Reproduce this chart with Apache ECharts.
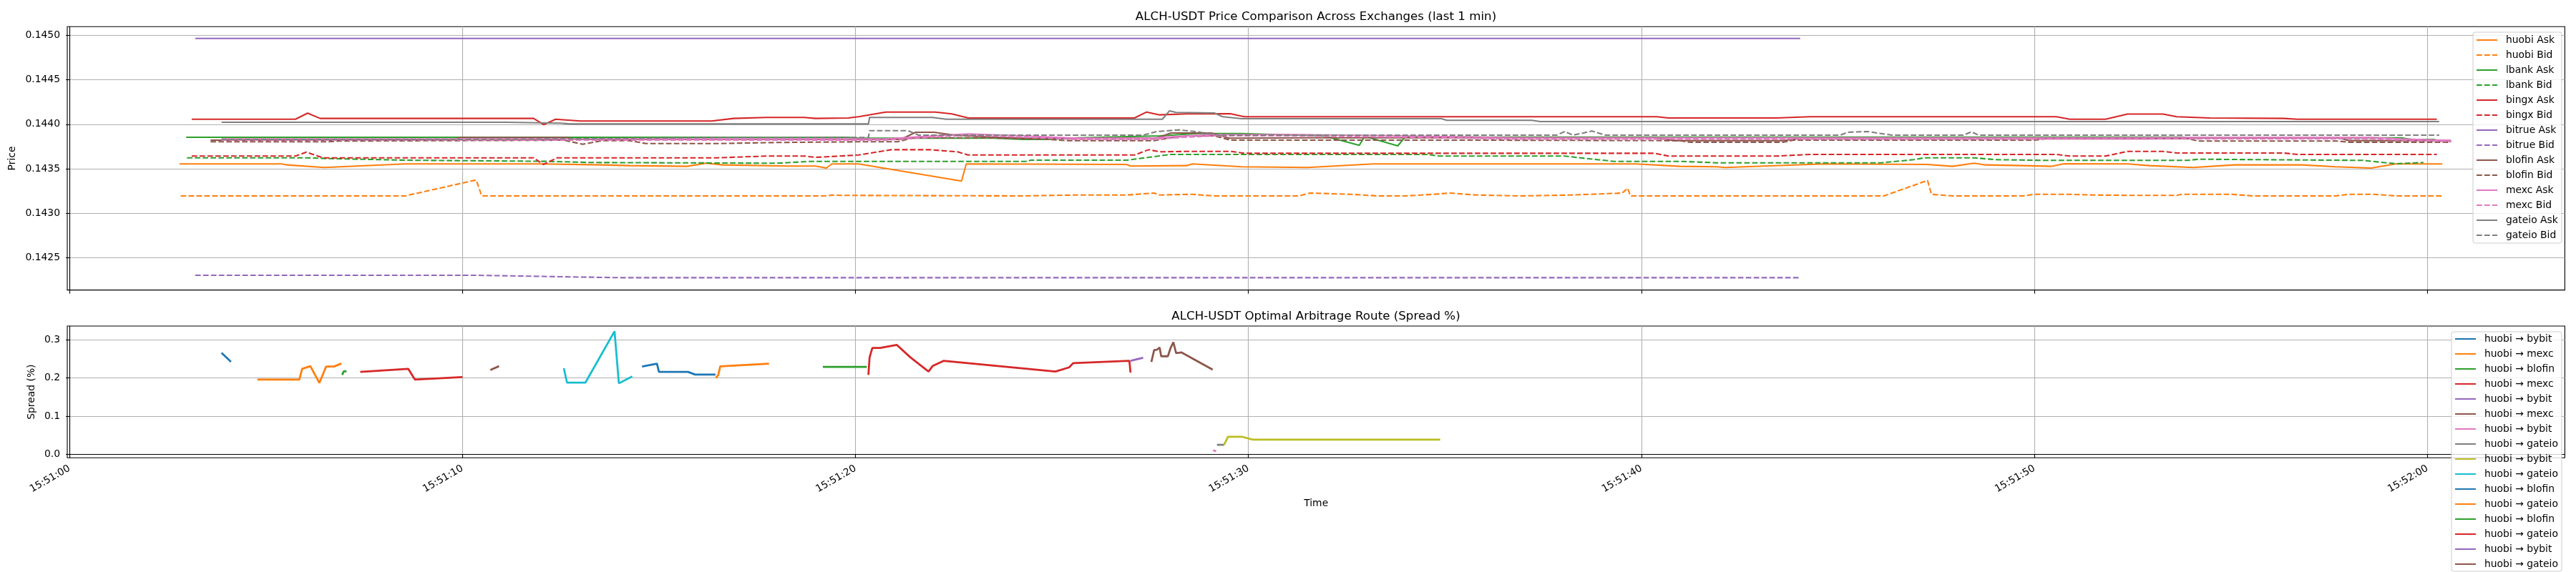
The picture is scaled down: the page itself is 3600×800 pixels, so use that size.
<!DOCTYPE html>
<html><head><meta charset="utf-8">
<script src="https://cdn.jsdelivr.net/npm/echarts@6/dist/echarts.min.js"></script>
<style>html,body{margin:0;padding:0;background:#fff}#c{width:3600px;height:800px}</style>
</head><body><div id="c"></div>
<script>
// ---------- text ----------
const priceTitle = 'ALCH-USDT Price Comparison Across Exchanges (last 1 min)';
const spreadTitle = 'ALCH-USDT Optimal Arbitrage Route (Spread %)';
// x values: seconds after 15:51:00
const xTickValues = [0, 10, 20, 30, 40, 50, 60];
const priceTickValues = [0.1425, 0.1430, 0.1435, 0.1440, 0.1445, 0.1450];
const spreadTickValues = [0.0, 0.1, 0.2, 0.3];

// ---------- price data ----------
const huobiAsk = [[2.80,.143555],[5.40,.143555],[5.54,.143544],[6.48,.143515],[8.54,.143555],[12.02,.143555],[13.55,.143544],[14.25,.143536],[15.71,.143528],[16.20,.143563],[16.62,.143544],[18.29,.143531],[18.98,.143531],[19.26,.143509],[19.40,.143555],[20.08,.143555],[22.70,.143362],[22.82,.143555],[26.90,.143549],[27.00,.143531],[28.43,.143536],[28.57,.143555],[29.83,.143523],[31.50,.143515],[33.17,.143555],[39.86,.143555],[40.97,.143528],[41.92,.143523],[42.13,.143515],[44.64,.143555],[47.28,.143549],[47.91,.143528],[48.47,.143563],[48.75,.143544],[49.72,.143536],[50.42,.143528],[50.76,.143557],[52.37,.143555],[52.92,.143536],[54.04,.143515],[55.08,.143544],[56.82,.143544],[57.66,.143523],[58.57,.143509],[59.19,.143555],[60.38,.143555]];
const huobiBid = [[2.83,.143196],[8.54,.143196],[8.60,.143202],[10.35,.143375],[10.49,.143196],[19.26,.143196],[19.40,.143206],[19.60,.143202],[24.26,.143196],[25.60,.143206],[26.90,.143206],[27.60,.143228],[27.74,.143206],[28.57,.143214],[29.13,.143196],[31.29,.143196],[31.57,.143228],[32.60,.143214],[33.30,.143196],[34.00,.143196],[34.70,.143214],[35.12,.143228],[35.80,.143206],[36.93,.143196],[38.20,.143206],[39.51,.143228],[39.65,.143282],[39.72,.143196],[46.17,.143196],[47.28,.143370],[47.38,.143214],[47.91,.143196],[49.72,.143196],[50.00,.143214],[50.90,.143214],[51.50,.143206],[52.50,.143202],[53.62,.143202],[53.76,.143214],[55.00,.143214],[55.57,.143196],[57.66,.143196],[58.00,.143214],[58.63,.143214],[59.19,.143196],[60.38,.143196]];
const lbankAsk = [[2.97,.143854],[16.00,.143854],[18.00,.143852],[19.80,.143854],[20.08,.143844],[23.56,.143844],[24.26,.143830],[24.95,.143830],[25.65,.143849],[27.74,.143870],[28.70,.143897],[29.83,.143897],[31.92,.143870],[32.82,.143764],[32.96,.143865],[33.80,.143758],[34.00,.143865],[36.10,.143857],[41.92,.143857],[53.76,.143857],[53.90,.143849],[59.33,.143849],[59.60,.143830],[60.20,.143830]];
const lbankBid = [[2.99,.143624],[6.03,.143624],[6.59,.143616],[8.54,.143597],[12.16,.143584],[13.27,.143571],[18.01,.143563],[18.85,.143584],[24.40,.143584],[24.45,.143597],[26.90,.143597],[27.46,.143629],[28.02,.143662],[34.56,.143662],[34.84,.143643],[38.05,.143643],[38.60,.143616],[39.30,.143584],[41.00,.143584],[41.92,.143568],[46.10,.143568],[46.93,.143603],[47.20,.143624],[48.47,.143624],[49.00,.143603],[50.28,.143595],[53.90,.143595],[54.18,.143608],[58.36,.143595],[59.19,.143557],[59.90,.143571]];
const bingxAsk = [[3.11,.144057],[5.75,.144057],[6.06,.144125],[6.38,.144066],[11.81,.144066],[12.07,.143996],[12.37,.144057],[13.00,.144037],[16.34,.144037],[16.90,.144066],[17.73,.144077],[18.70,.144077],[18.98,.144066],[19.82,.144071],[20.08,.144085],[20.77,.144138],[22.03,.144138],[22.45,.144117],[22.87,.144071],[27.10,.144071],[27.41,.144138],[27.74,.144106],[28.43,.144117],[29.54,.144119],[29.89,.144085],[40.40,.144085],[40.68,.144071],[43.43,.144071],[44.29,.144085],[50.56,.144085],[50.90,.144057],[51.81,.144057],[52.37,.144115],[53.27,.144115],[53.62,.144085],[54.46,.144071],[56.34,.144066],[56.69,.144057],[60.24,.144057]];
const bingxBid = [[3.11,.143643],[5.75,.143643],[6.03,.143688],[6.45,.143624],[11.81,.143624],[12.06,.143549],[12.41,.143624],[16.48,.143624],[17.73,.143643],[18.70,.143643],[18.98,.143629],[19.60,.143643],[20.08,.143656],[20.91,.143715],[21.89,.143715],[22.60,.143691],[22.86,.143656],[27.11,.143656],[27.46,.143715],[27.74,.143691],[28.43,.143696],[29.55,.143696],[29.90,.143675],[40.34,.143675],[40.69,.143643],[43.43,.143643],[44.29,.143662],[50.56,.143662],[50.90,.143643],[51.81,.143643],[52.37,.143696],[53.27,.143696],[53.62,.143678],[56.34,.143678],[56.69,.143662],[60.24,.143662]];
const bitrueAsk = [[3.20,.144965],[12.00,.144965],[24.00,.144965],[36.00,.144965],[44.04,.144965]];
const bitrueBid = [[3.20,.142305],[10.35,.142305],[12.16,.142291],[13.97,.142278],[30.00,.142278],[44.01,.142278]];
const blofinAsk = [[3.59,.143822],[9.79,.143822],[9.93,.143852],[12.65,.143852],[12.90,.143830],[21.16,.143830],[21.53,.143911],[22.00,.143911],[22.55,.143876],[23.48,.143857],[24.41,.143844],[27.66,.143844],[28.03,.143903],[29.05,.143903],[29.51,.143844],[31.54,.143849],[40.37,.143849],[40.83,.143817],[43.62,.143817],[44.08,.143844],[53.90,.143844],[54.10,.143849],[57.73,.143849],[58.00,.143817],[60.60,.143817]];
const blofinBid = [[3.59,.143804],[6.59,.143804],[6.87,.143812],[9.79,.143817],[12.58,.143822],[13.06,.143776],[13.55,.143817],[14.25,.143817],[14.67,.143784],[16.50,.143784],[18.00,.143796],[20.08,.143804],[21.07,.143804],[21.47,.143849],[23.28,.143849],[24.95,.143830],[25.37,.143817],[27.60,.143817],[28.16,.143857],[28.43,.143870],[29.13,.143870],[29.55,.143822],[36.23,.143822],[40.97,.143817],[41.25,.143798],[43.59,.143798],[43.87,.143822],[50.00,.143822],[50.28,.143838],[53.90,.143838],[54.18,.143812],[57.73,.143812],[58.00,.143798],[60.60,.143798]];
const mexcAsk = [[3.87,.143836],[20.08,.143836],[20.77,.143836],[21.75,.143865],[22.86,.143892],[24.26,.143870],[25.65,.143844],[27.46,.143844],[28.43,.143870],[29.13,.143884],[31.22,.143884],[33.90,.143870],[36.80,.143849],[41.92,.143849],[51.60,.143849],[53.90,.143852],[58.60,.143852],[59.33,.143836],[60.60,.143817]];
const mexcBid = [[3.87,.143822],[20.77,.143822],[21.75,.143851],[22.86,.143878],[24.26,.143856],[25.65,.143830],[27.46,.143830],[28.43,.143856],[29.13,.143870],[31.22,.143870],[33.90,.143856],[36.80,.143835],[51.60,.143835],[58.60,.143838],[59.33,.143822],[60.60,.143806]];
const gateioAsk = [[3.87,.144023],[11.11,.144023],[12.51,.144013],[12.72,.144004],[20.33,.144004],[20.36,.144077],[21.96,.144077],[22.31,.144057],[27.81,.144057],[27.99,.144151],[28.16,.144133],[29.13,.144128],[29.34,.144085],[29.83,.144063],[34.91,.144063],[35.05,.144045],[37.21,.144045],[37.42,.144031],[60.30,.144031]];
const gateioBid = [[3.87,.143830],[9.72,.143830],[12.50,.143836],[16.50,.143852],[20.33,.143852],[20.36,.143929],[21.33,.143929],[21.61,.143878],[27.32,.143878],[27.67,.143919],[28.23,.143937],[28.65,.143919],[29.27,.143878],[37.84,.143878],[38.05,.143919],[38.26,.143878],[38.74,.143924],[39.09,.143878],[45.05,.143878],[45.26,.143911],[45.75,.143919],[46.38,.143878],[48.19,.143878],[48.40,.143916],[48.58,.143878],[60.30,.143878]];

const priceNames = ['huobi Ask','huobi Bid','lbank Ask','lbank Bid','bingx Ask','bingx Bid','bitrue Ask','bitrue Bid','blofin Ask','blofin Bid','mexc Ask','mexc Bid','gateio Ask','gateio Bid'];
const priceData = [huobiAsk,huobiBid,lbankAsk,lbankBid,bingxAsk,bingxBid,bitrueAsk,bitrueBid,blofinAsk,blofinBid,mexcAsk,mexcBid,gateioAsk,gateioBid];
const exchangeColors = ['#ff7f0e','#2ca02c','#d62728','#9467bd','#8c564b','#e377c2','#7f7f7f'];

// ---------- spread data ----------
const route1 = [[3.87,0.266],[4.11,0.2425]];
const route2 = [[4.78,0.196],[5.85,0.196],[5.92,0.224],[6.13,0.231],[6.36,0.187],[6.53,0.230],[6.73,0.230],[6.92,0.238]];
const route3 = [[6.94,0.208],[6.98,0.2175],[7.05,0.2175]];
const route4 = [[7.40,0.216],[8.62,0.224],[8.79,0.196],[10.0,0.2025]];
const route5 = [];
const route6 = [[10.71,0.221],[10.93,0.231]];
const route7 = [[29.10,0.0105],[29.18,0.0075]];
const route8 = [[29.20,0.0247],[29.38,0.0247]];
const route9 = [[29.38,0.0247],[29.48,0.046],[29.83,0.046],[30.11,0.0383],[34.88,0.0383]];
const route10 = [[12.58,0.2256],[12.66,0.188],[13.13,0.188],[13.87,0.3225],[13.98,0.186],[14.32,0.204]];
const route11 = [[14.57,0.230],[14.95,0.2375],[15.00,0.216],[15.74,0.216],[15.92,0.209],[16.44,0.209]];
const route12 = [[16.45,0.200],[16.51,0.208],[16.56,0.2306],[17.80,0.2375]];
const route13 = [[19.17,0.229],[20.29,0.229]];
const route14 = [[20.33,0.208],[20.36,0.254],[20.43,0.279],[20.63,0.279],[21.05,0.287],[21.40,0.254],[21.86,0.217],[21.96,0.231],[22.24,0.245],[25.09,0.217],[25.44,0.228],[25.54,0.239],[26.97,0.245],[27.00,0.214]];
const route15 = [[27.00,0.245],[27.32,0.253]];
const route16 = [[27.53,0.242],[27.60,0.273],[27.67,0.274],[27.74,0.280],[27.78,0.257],[27.95,0.257],[28.02,0.279],[28.09,0.294],[28.16,0.265],[28.30,0.267],[29.09,0.222]];
const routeNames = ['huobi → bybit','huobi → mexc','huobi → blofin','huobi → mexc','huobi → bybit','huobi → mexc','huobi → bybit','huobi → gateio','huobi → bybit','huobi → gateio','huobi → blofin','huobi → gateio','huobi → blofin','huobi → gateio','huobi → bybit','huobi → gateio'];
const routeData = [route1,route2,route3,route4,route5,route6,route7,route8,route9,route10,route11,route12,route13,route14,route15,route16];
const tab10 = ['#1f77b4','#ff7f0e','#2ca02c','#d62728','#9467bd','#8c564b','#e377c2','#7f7f7f','#bcbd22','#17becf'];

// ---------- build ----------
const FONT = 'DejaVu Sans';
const FS = 13.9;
function fmtTime(t) {
  const total = 15*3600 + 51*60 + Math.round(t);
  const h = Math.floor(total/3600), m = Math.floor((total%3600)/60), s = total%60;
  return String(h).padStart(2,'0') + ':' + String(m).padStart(2,'0') + ':' + String(s).padStart(2,'0');
}
const XMIN = -0.056, XMAX = 63.497;
const axisLineStyle = {show:true, lineStyle:{color:'#000', width:1.1}};
const tickStyle = {show:true, length:5, inside:false, lineStyle:{color:'#000', width:1.1}};
const splitStyle = {show:true, lineStyle:{color:'#b0b0b0', width:1.1}};
const labelBase = {color:'#000', fontFamily:FONT, fontSize:FS};

const series = [];
priceNames.forEach((name, i) => {
  const col = exchangeColors[Math.floor(i/2)];
  const isBid = i % 2 === 1;
  series.push({
    name, type:'line', xAxisIndex:0, yAxisIndex:0, data: priceData[i],
    symbol:'none', showSymbol:false, silent:true, animation:false,
    itemStyle:{color:col},
    lineStyle:{color:col, width:2.08, type: isBid ? [7.7,3.3] : 'solid', opacity:1},
    emphasis:{disabled:true}
  });
});
const routeSeriesNames = routeNames.map((n, i) => n + '#' + i);
routeNames.forEach((n, i) => {
  const col = tab10[i % 10];
  series.push({
    name: routeSeriesNames[i], type:'line', xAxisIndex:1, yAxisIndex:1, data: routeData[i],
    symbol:'none', showSymbol:false, silent:true, animation:false,
    itemStyle:{color:col},
    lineStyle:{color:col, width:2.78, type:'solid'},
    emphasis:{disabled:true}
  });
});

const legendCommon = {
  orient:'vertical', itemGap:7, itemWidth:29, itemHeight:14,
  backgroundColor:'rgba(255,255,255,0.8)', borderColor:'#cccccc', borderWidth:1, borderRadius:3,
  textStyle:{fontFamily:FONT, fontSize:FS, color:'#000', lineHeight:14, padding:[0,0,0,7]},
  itemStyle:{opacity:0}, selectedMode:false, z:10
};

const option = {
  animation:false,
  backgroundColor:'#fff',
  title:[
    {text:priceTitle, left:1839, top:15, padding:0, textAlign:'center', textStyle:{fontFamily:FONT, fontSize:16.7, fontWeight:'normal', color:'#000'}},
    {text:spreadTitle, left:1839, top:434.6, padding:0, textAlign:'center', textStyle:{fontFamily:FONT, fontSize:16.7, fontWeight:'normal', color:'#000'}}
  ],
  legend:[
    Object.assign({}, legendCommon, {left:3456, top:45, padding:[4,5,4,4], data: priceNames}),
    Object.assign({}, legendCommon, {left:3426, top:464, height:1200, padding:[3,5,3,4], data: routeSeriesNames,
      formatter: n => n.split('#')[0]})
  ],
  grid:[
    {left:94, top:37.3, width:3490.4, height:368.4, show:true, borderColor:'#000', borderWidth:1.1, backgroundColor:'transparent', outerBoundsMode:'none', containLabel:false},
    {left:94, top:456, width:3490.4, height:184.3, show:true, borderColor:'#000', borderWidth:1.1, backgroundColor:'transparent', outerBoundsMode:'none', containLabel:false}
  ],
  xAxis:[
    {type:'value', gridIndex:0, min:XMIN, max:XMAX, splitNumber:6, axisLine:axisLineStyle,
     axisTick:Object.assign({customValues:xTickValues}, tickStyle),
     axisLabel:{show:false}, splitLine:splitStyle},
    {type:'value', gridIndex:1, min:XMIN, max:XMAX, splitNumber:6, axisLine:axisLineStyle,
     axisTick:Object.assign({customValues:xTickValues}, tickStyle),
     axisLabel:Object.assign({customValues:xTickValues, rotate:30, margin:14, formatter:v => fmtTime(v)}, labelBase),
     splitLine:splitStyle,
     name:'Time', nameLocation:'middle', nameGap:57, nameTextStyle:labelBase}
  ],
  yAxis:[
    {type:'value', gridIndex:0, min:0.1421386, max:0.1450964, splitNumber:5, axisLine:axisLineStyle,
     axisTick:Object.assign({customValues:priceTickValues}, tickStyle),
     axisLabel:Object.assign({customValues:priceTickValues, margin:10, formatter:v => v.toFixed(4)}, labelBase),
     splitLine:splitStyle,
     name:'Price', nameLocation:'middle', nameGap:66, nameTextStyle:labelBase},
    {type:'value', gridIndex:1, min:-0.009375, max:0.33625, splitNumber:3, axisLine:axisLineStyle,
     axisTick:Object.assign({customValues:spreadTickValues}, tickStyle),
     axisLabel:Object.assign({customValues:spreadTickValues, margin:10, formatter:v => v.toFixed(1)}, labelBase),
     splitLine:splitStyle,
     name:'Spread (%)', nameLocation:'middle', nameGap:41, nameTextStyle:labelBase}
  ],
  series
};
const chart = echarts.init(document.getElementById('c'), null, {renderer:'canvas'});
chart.setOption(option);
</script></body></html>
